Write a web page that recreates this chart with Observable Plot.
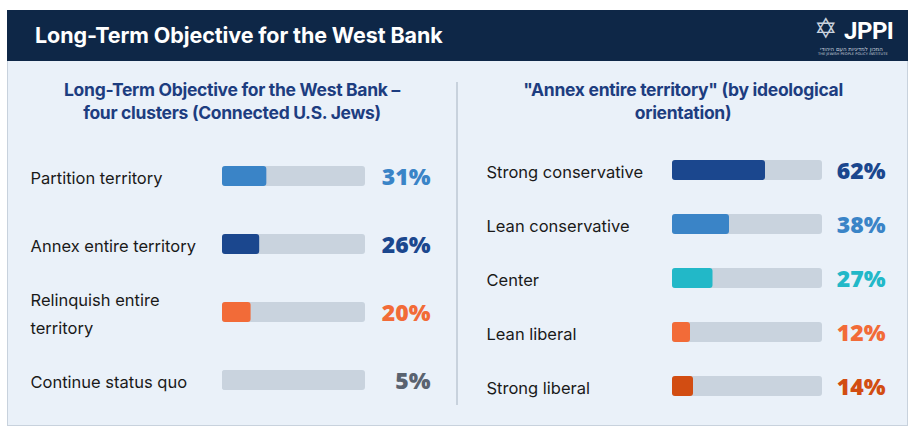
<!DOCTYPE html>
<html>
<head>
<meta charset="utf-8">
<script src="https://cdn.jsdelivr.net/npm/d3@7"></script>
<script src="https://cdn.jsdelivr.net/npm/@observablehq/plot@0.6"></script>
<style>
  html, body { margin: 0; padding: 0; background: #ffffff; }
  #root { position: relative; width: 914px; height: 437px; overflow: hidden; font-family: Inter, "Noto Sans", sans-serif; }
  #header { position: absolute; left: 7px; top: 10px; width: 901px; height: 51px; background: #0e2747; }
  #title { position: absolute; left: 28px; top: 12px; color: #fff; font: 700 21.5px Inter, sans-serif; letter-spacing: -0.1px; }
  #logo { position: absolute; right: 10px; top: 6px; width: 84px; height: 40px; color: #fff; }
  #logo .star { position: absolute; left: 0px; top: -4px; font: 28px "DejaVu Sans"; color: #c9d2de; }
  #logo .jppi { position: absolute; left: 30px; top: 1px; font: 700 24px Roboto, sans-serif; letter-spacing: -0.5px; }
  #logo .heb { position: absolute; left: 6px; top: 30px; font: 5.5px "DejaVu Sans"; color: #c9d2de; white-space: nowrap; }
  #logo .eng { position: absolute; left: 4px; top: 36px; font: 3.6px "DejaVu Sans"; color: #c9d2de; white-space: nowrap; }
  #panel { position: absolute; left: 7px; top: 61px; width: 899px; height: 364px; background: #eaf1f9; border: 1px solid #c8d2dd; border-top: none; }
  #divider { position: absolute; left: 456px; top: 82px; width: 2px; height: 323px; background: #c8d2dd; }
  .sub { position: absolute; top: 78px; text-align: center; color: #1d3d80; font: 700 17.5px Inter, sans-serif; line-height: 23px; letter-spacing: -0.3px; }
  #subL { left: 7px; width: 450px; }
  #subR { left: 458px; width: 450px; }
  #plotL { position: absolute; left: 0px; top: 140px; }
  #plotR { position: absolute; left: 457px; top: 140px; }
</style>
</head>
<body>
<div id="root">
  <div id="header">
    <div id="title">Long-Term Objective for the West Bank</div>
    <div id="logo">
      <span class="star">✡</span>
      <span class="jppi">JPPI</span>
      <span class="heb">המכון למדיניות העם היהודי</span>
      <span class="eng">THE JEWISH PEOPLE POLICY INSTITUTE</span>
    </div>
  </div>
  <div id="panel"></div>
  <div id="divider"></div>
  <div class="sub" id="subL">Long-Term Objective for the West Bank –<br>four clusters (Connected U.S. Jews)</div>
  <div class="sub" id="subR">"Annex entire territory" (by ideological<br>orientation)</div>
  <div id="plotL"></div>
  <div id="plotR"></div>
</div>
<script>
// Left panel: four clusters
const leftCategories = ["Partition territory", "Annex entire territory", "Relinquish entire\nterritory", "Continue status quo"];
const leftValues = [31, 26, 20, 5];
const leftBarColors = ["#3a84c7", "#1b478e", "#f26b38", "#c9d3de"];
const leftTextColors = ["#3a84c7", "#1b478e", "#f26b38", "#5a6370"];

// Right panel: "Annex entire territory" by ideological orientation
const rightCategories = ["Strong conservative", "Lean conservative", "Center", "Lean liberal", "Strong liberal"];
const rightValues = [62, 38, 27, 12, 14];
const rightBarColors = ["#1b478e", "#3a84c7", "#22b8c8", "#f26b38", "#d24d12"];
const rightTextColors = ["#1b478e", "#3a84c7", "#22b8c8", "#f26b38", "#d24d12"];

function panel(cats, vals, barColors, textColors, opt) {
  const data = cats.map((c, i) => ({cat: c, value: vals[i], bar: barColors[i], txt: textColors[i]}));
  const n = cats.length;
  const step = (opt.height - opt.marginTop - opt.marginBottom) / n;
  const pi = 1 - 20 / step;
  return Plot.plot({
    width: opt.width,
    height: opt.height,
    marginLeft: opt.marginLeft,
    marginRight: opt.marginRight,
    marginTop: opt.marginTop,
    marginBottom: opt.marginBottom,
    style: {background: "transparent", overflow: "visible"},
    x: {domain: [0, 100], axis: null},
    y: {domain: cats, axis: null, paddingInner: pi, paddingOuter: pi / 2},
    marks: [
      Plot.barX(data, {y: "cat", x1: 0, x2: 100, fill: "#c9d3de", rx: 3}),
      Plot.barX(data, {y: "cat", x1: 0, x2: "value", fill: d => d.bar, rx: 3}),
      Plot.text(data, {y: "cat", text: "cat", frameAnchor: "left", textAnchor: "start", dx: opt.labelDx, dy: -1.5,
        fill: "#1a1a1a", fontSize: 16.5, fontFamily: "Inter, sans-serif", lineHeight: 1.68}),
      Plot.text(data, {y: "cat", text: d => d.value + "%", frameAnchor: "right", textAnchor: "end", dx: opt.valueDx, dy: 1.5,
        fill: d => d.txt, fontSize: 23, fontWeight: 800, fontFamily: "'Open Sans', sans-serif"})
    ]
  });
}

document.getElementById("plotL").appendChild(panel(leftCategories, leftValues, leftBarColors, leftTextColors, {
  width: 457, height: 280, marginLeft: 222, marginRight: 92, marginTop: 2, marginBottom: 6,
  labelDx: -192, valueDx: 65
}));
document.getElementById("plotR").appendChild(panel(rightCategories, rightValues, rightBarColors, rightTextColors, {
  width: 451, height: 280, marginLeft: 215, marginRight: 86, marginTop: 2.2, marginBottom: 6.8,
  labelDx: -186, valueDx: 63
}));
</script>
</body>
</html>
